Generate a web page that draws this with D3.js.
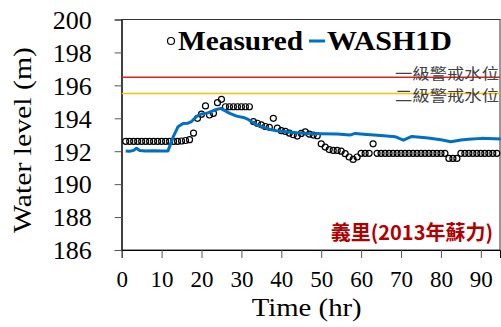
<!DOCTYPE html>
<html>
<head>
<meta charset="utf-8">
<script src="https://cdn.jsdelivr.net/npm/d3@7"></script>
<style>
  body { margin: 0; background: #fff; }
  svg { display: block; }
</style>
</head>
<body>
<div id="chart"></div>
<script>
// 實測水位 (每小時, 由 1 hr 開始)
var measured = [
  192.6, 192.6, 192.6, 192.6, 192.6, 192.6, 192.6, 192.6, 192.6, 192.6,
  192.6, 192.6, 192.6, 192.6, 192.62, 192.65, 192.7, 193.1, 194.0, 194.25,
  194.75, 194.2, 194.3, 194.95, 195.15, 194.7, 194.7, 194.7, 194.7, 194.7,
  194.7, 194.7, 193.8, 193.7, 193.6, 193.5, 193.45, 194.0, 193.4, 193.25,
  193.2, 193.1, 193.0, 192.92, 193.08, 193.18, 193.04, 192.98, 192.94, 192.45,
  192.25, 192.1, 192.05, 192.05, 192.0, 191.85, 191.65, 191.5, 191.65, 191.87,
  191.87, 191.87, 192.45, 191.87, 191.87, 191.87, 191.87, 191.87, 191.87, 191.87,
  191.87, 191.87, 191.87, 191.87, 191.87, 191.87, 191.87, 191.87, 191.87, 191.87,
  191.87, 191.56, 191.56, 191.56, 191.87, 191.87, 191.87, 191.87, 191.87, 191.87,
  191.87, 191.87, 191.87, 191.87
];
// WASH1D 模擬
var washHours = [1, 2, 3, 3.7, 4.5, 6, 8, 10, 11.6, 12.9, 14.1, 15.4, 16.6, 17.5, 18.7, 20, 21.6, 23.3, 24.8,
  27.1, 28.8, 30.5, 31.7, 32.6, 33.8, 35.5, 37.2, 38.8, 41.3, 43.9, 46.4, 49.7, 54, 57.2, 58.5, 61.4,
  65, 68.5, 70.6, 72.7, 76.8, 80, 82.5, 85, 86.9, 90.2, 95];
var washLevel = [192.02, 192.0, 192.05, 192.18, 192.05, 192.02, 192.03, 192.02, 192.02, 192.87, 193.48, 193.69, 193.7, 193.8, 194.1, 194.26, 194.33, 194.5, 194.6,
  194.3, 194.13, 194.05, 193.93, 193.79, 193.6, 193.45, 193.32, 193.24, 193.18, 193.12, 193.08, 193.06, 193.04, 192.98, 193.08, 193.02,
  192.95, 192.88, 192.67, 192.9, 192.8, 192.7, 192.57, 192.68, 192.72, 192.78, 192.74];
// 警戒水位
var warnNames = ["一級警戒水位", "二級警戒水位"];
var warnLevels = [196.5, 195.5];
var warnColors = ["#e02020", "#ffc000"];
var xTicks = [0, 10, 20, 30, 40, 50, 60, 70, 80, 90];
var yTicks = [186, 188, 190, 192, 194, 196, 198, 200];

var width = 501, height = 327;
var margin = { top: 19.5, right: 1, bottom: 77, left: 121.7 };

var svg = d3.select("#chart").append("svg")
  .attr("width", width)
  .attr("height", height);

var x = d3.scaleLinear().domain([0, 94.8]).range([margin.left, width - margin.right]);
var y = d3.scaleLinear().domain([186, 200]).range([height - margin.bottom, margin.top]);

var serif = "'Liberation Serif', 'Times New Roman', serif";
var cjk = "'Noto Sans CJK TC', 'Noto Sans CJK SC', sans-serif";

// 外框
svg.append("rect")
  .attr("x", margin.left).attr("y", margin.top)
  .attr("width", x.range()[1] - margin.left)
  .attr("height", y(186) - margin.top)
  .attr("fill", "none").attr("stroke", "#333").attr("stroke-width", 1);

// 軸
var xAxis = svg.append("g")
  .attr("transform", `translate(0,${y(186)})`)
  .call(d3.axisBottom(x).tickValues(xTicks).tickSize(8).tickPadding(13));
var yAxis = svg.append("g")
  .attr("transform", `translate(${margin.left},0)`)
  .call(d3.axisLeft(y).tickValues(yTicks).tickSize(7).tickPadding(23));

[xAxis, yAxis].forEach(function (a) {
  a.select(".domain").attr("stroke", "#000");
  a.selectAll(".tick line").attr("stroke", "#555");
  a.selectAll("text").attr("font-family", serif).attr("fill", "#000");
});
xAxis.selectAll("text").attr("font-size", 23);
yAxis.selectAll("text").attr("font-size", 26).attr("dy", "0.34em");

// 軸標題
svg.append("text")
  .attr("x", 306.7)
  .attr("y", 316)
  .attr("text-anchor", "middle")
  .attr("font-family", serif).attr("font-size", 26)
  .attr("textLength", 110).attr("lengthAdjust", "spacingAndGlyphs")
  .text("Time (hr)");
svg.append("text")
  .attr("transform", "translate(31,140) rotate(-90)")
  .attr("text-anchor", "middle")
  .attr("font-family", serif).attr("font-size", 26)
  .attr("textLength", 186).attr("lengthAdjust", "spacingAndGlyphs")
  .text("Water level (m)");

// 警戒線
var warnDy = [1.5, 7];
warnLevels.forEach(function (v, i) {
  svg.append("line")
    .attr("x1", margin.left).attr("x2", x.range()[1])
    .attr("y1", y(v)).attr("y2", y(v))
    .attr("stroke", warnColors[i]).attr("stroke-width", 1.5);
  svg.append("text")
    .attr("x", 499).attr("y", y(v) + warnDy[i])
    .attr("text-anchor", "end")
    .attr("font-family", cjk).attr("font-size", 15)
    .attr("textLength", 104).attr("lengthAdjust", "spacingAndGlyphs")
    .attr("fill", "#404040")
    .text(warnNames[i]);
});

// 實測點
svg.append("g")
  .selectAll("circle")
  .data(measured)
  .enter()
  .append("circle")
  .attr("cx", (d, i) => x(i + 1))
  .attr("cy", d => y(d))
  .attr("r", 3)
  .attr("fill", "none")
  .attr("stroke", "#000")
  .attr("stroke-width", 1.2);

// 模擬線
var line = d3.line()
  .x((d, i) => x(washHours[i]))
  .y(d => y(d));
svg.append("path")
  .datum(washLevel)
  .attr("d", line)
  .attr("fill", "none")
  .attr("stroke", "#0070c0")
  .attr("stroke-width", 3)
  .attr("stroke-linejoin", "round");

// 圖例
var lg = svg.append("g");
lg.append("circle")
  .attr("cx", 171).attr("cy", 41).attr("r", 3.5)
  .attr("fill", "none").attr("stroke", "#000").attr("stroke-width", 1.2);
lg.append("text")
  .attr("x", 178).attr("y", 50)
  .attr("font-family", serif).attr("font-size", 28).attr("font-weight", "bold")
  .attr("textLength", 125).attr("lengthAdjust", "spacingAndGlyphs")
  .text("Measured");
lg.append("line")
  .attr("x1", 309).attr("x2", 325).attr("y1", 41).attr("y2", 41)
  .attr("stroke", "#0070c0").attr("stroke-width", 3);
lg.append("text")
  .attr("x", 327).attr("y", 50)
  .attr("font-family", serif).attr("font-size", 28).attr("font-weight", "bold")
  .attr("textLength", 125).attr("lengthAdjust", "spacingAndGlyphs")
  .text("WASH1D");

// 測站
svg.append("text")
  .attr("x", 493).attr("y", 240)
  .attr("text-anchor", "end")
  .attr("font-family", cjk).attr("font-size", 20).attr("font-weight", "bold")
  .attr("fill", "#b00000")
  .text("義里(2013年蘇力)");
</script>
</body>
</html>
